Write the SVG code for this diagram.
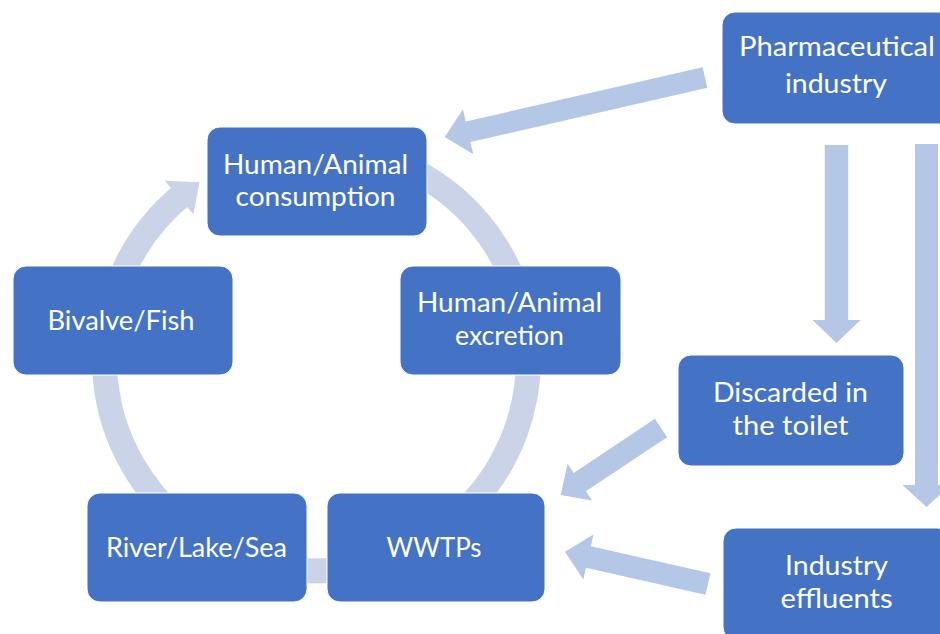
<svg xmlns="http://www.w3.org/2000/svg" width="940" height="634" viewBox="0 0 940 634">
<style>
.box{fill:#4472C4;stroke:#ffffff;stroke-width:1}
.lbl{fill:#ffffff;font-family:Lato,"Open Sans","Liberation Sans",sans-serif;font-size:27px;text-anchor:middle}
.arr{fill:#B4C7E7}
.ring{fill:none;stroke:#CBD3E9;stroke-width:25}
.ringhead{fill:#CBD3E9}
</style>
<rect width="940" height="634" fill="#ffffff"/>
<g id="connectors">
  <path class="ring" d="M335.0,147.8 A212,212 0 1 1 181.6,195.4"/>
  <polygon class="ringhead" points="164.8,180.8 199.5,182.2 193.4,214.3"/>
  <g transform="translate(705,77.5) rotate(167.1)">
    <polygon class="arr" points="0,-10.5 243,-10.5 243,-23 267,0 243,23 243,10.5 0,10.5"/>
  </g>
  <polygon class="arr" points="824.8,145 848.2,145 848.2,320 860.5,320 836.5,343 812.5,320 824.8,320"/>
  <polygon class="arr" points="915,144 938,144 938,485 950.5,485 926.5,507 902.5,485 915,485"/>
  <g transform="translate(661,428) rotate(146.3)">
    <polygon class="arr" points="0,-11 97.6,-11 97.6,-22 120.6,0 97.6,22 97.6,11 0,11"/>
  </g>
  <g transform="translate(708,584) rotate(192.7)">
    <polygon class="arr" points="0,-11 122.6,-11 122.6,-23 146.6,0 122.6,23 122.6,11 0,11"/>
  </g>
</g>
<g id="pharma">
  <rect class="box" x="722" y="12" width="230" height="112" rx="13"/>
  <text class="lbl" x="837" y="56" textLength="196" lengthAdjust="spacingAndGlyphs">Pharmaceutical</text>
  <text class="lbl" x="836" y="93" textLength="102" lengthAdjust="spacingAndGlyphs">industry</text>
</g>
<g id="consumption">
  <rect class="box" x="207" y="127" width="220" height="109" rx="13"/>
  <text class="lbl" x="315.5" y="173.5" textLength="185" lengthAdjust="spacingAndGlyphs">Human/Animal</text>
  <text class="lbl" x="315.5" y="206" textLength="160" lengthAdjust="spacingAndGlyphs">consumption</text>
</g>
<g id="bivalve">
  <rect class="box" x="13" y="266" width="220" height="109" rx="13"/>
  <text class="lbl" x="121" y="330" textLength="147" lengthAdjust="spacingAndGlyphs">Bivalve/Fish</text>
</g>
<g id="excretion">
  <rect class="box" x="400" y="266" width="221" height="109" rx="13"/>
  <text class="lbl" x="509.5" y="312" textLength="185" lengthAdjust="spacingAndGlyphs">Human/Animal</text>
  <text class="lbl" x="509.5" y="345" textLength="109" lengthAdjust="spacingAndGlyphs">excretion</text>
</g>
<g id="discarded">
  <rect class="box" x="678" y="355" width="226" height="111" rx="13"/>
  <text class="lbl" x="790.5" y="402" textLength="155" lengthAdjust="spacingAndGlyphs">Discarded in</text>
  <text class="lbl" x="790.5" y="435" textLength="116" lengthAdjust="spacingAndGlyphs">the toilet</text>
</g>
<g id="river">
  <rect class="box" x="87" y="493" width="220" height="109" rx="13"/>
  <text class="lbl" x="196.5" y="557" textLength="181" lengthAdjust="spacingAndGlyphs">River/Lake/Sea</text>
</g>
<g id="wwtps">
  <rect class="box" x="327" y="493" width="218" height="109" rx="13"/>
  <text class="lbl" x="434" y="557" textLength="95" lengthAdjust="spacingAndGlyphs">WWTPs</text>
</g>
<g id="effluents">
  <rect class="box" x="723" y="528" width="228" height="112" rx="13"/>
  <text class="lbl" x="836.5" y="575" textLength="103" lengthAdjust="spacingAndGlyphs">Industry</text>
  <text class="lbl" x="836.5" y="608" textLength="112" lengthAdjust="spacingAndGlyphs">effluents</text>
</g>
</svg>
